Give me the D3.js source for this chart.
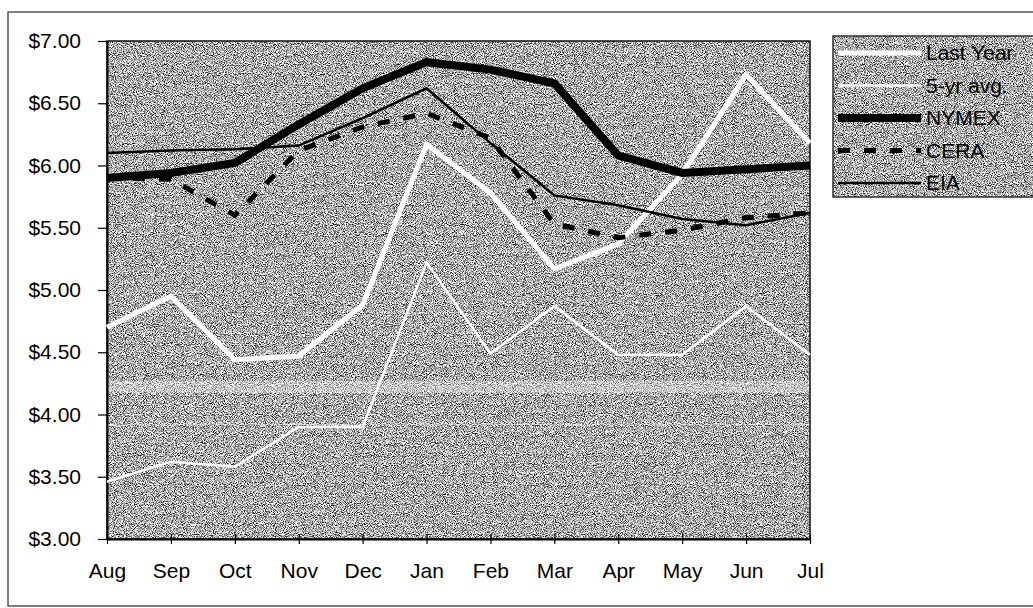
<!DOCTYPE html>
<html>
<head>
<meta charset="utf-8">
<script src="https://cdn.jsdelivr.net/npm/d3@7"></script>
<style>
  body { margin: 0; background: #fff; }
  text { font-family: "Liberation Sans", Arial, sans-serif; }
</style>
</head>
<body>
<script>
// data
const months = ['Aug','Sep','Oct','Nov','Dec','Jan','Feb','Mar','Apr','May','Jun','Jul'];
const lastYear = [4.70, 4.95, 4.44, 4.47, 4.88, 6.17, 5.78, 5.17, 5.37, 5.93, 6.73, 6.18];
const fiveYrAvg = [3.46, 3.62, 3.58, 3.90, 3.90, 5.22, 4.49, 4.87, 4.48, 4.48, 4.87, 4.48];
const nymex = [5.90, 5.94, 6.02, 6.33, 6.62, 6.83, 6.77, 6.66, 6.08, 5.94, 5.97, 6.00];
const cera = [5.90, 5.89, 5.60, 6.12, 6.31, 6.42, 6.22, 5.53, 5.42, 5.48, 5.58, 5.62];
const eia = [6.10, 6.12, 6.13, 6.16, 6.38, 6.62, 6.18, 5.76, 5.68, 5.57, 5.52, 5.62];
const yTicks = [3.00, 3.50, 4.00, 4.50, 5.00, 5.50, 6.00, 6.50, 7.00];
const seriesNames = ['Last Year', '5-yr avg.', 'NYMEX', 'CERA', 'EIA'];

// create svg canvas
const canvWidth = 1033, canvHeight = 608;
const svg = d3.select('body').append('svg')
  .attr('width', canvWidth)
  .attr('height', canvHeight);

// plot area bounds
const plotLeft = 107, plotRight = 810, plotTop = 41, plotBottom = 539;
const fontSize = '21px';

// styles per series, same order as seriesNames
const seriesStyle = [
  {color: '#fff', width: 5, dash: null},
  {color: '#fff', width: 2.5, dash: null},
  {color: '#000', width: 8, dash: null},
  {color: '#000', width: 5, dash: '12,14'},
  {color: '#000', width: 2.5, dash: null}
];
const seriesData = [lastYear, fiveYrAvg, nymex, cera, eia];

// scanned paper grain
const defs = svg.append('defs');
const grain = defs.append('filter').attr('id', 'grain')
  .attr('x', 0).attr('y', 0).attr('width', '100%').attr('height', '100%')
  .attr('color-interpolation-filters', 'sRGB');
grain.append('feTurbulence').attr('type', 'fractalNoise')
  .attr('baseFrequency', 1.1).attr('numOctaves', 1).attr('seed', 7);
grain.append('feColorMatrix').attr('type', 'matrix')
  .attr('values', '2.8 0 0 0 -0.72  2.8 0 0 0 -0.72  2.8 0 0 0 -0.72  0 0 0 0 1');

//DRAWING outer frame
svg.append('rect').attr('x', 8).attr('y', 12).attr('width', 1040).attr('height', 594)
  .style('fill', 'none').style('stroke', '#555').style('stroke-width', 1.5);

// scales
const x = d3.scalePoint().domain(months).range([plotLeft, plotRight]);
const y = d3.scaleLinear().domain([3, 7]).range([plotBottom, plotTop]);

//DRAWING plot background
svg.append('rect').attr('x', plotLeft).attr('y', plotTop)
  .attr('width', plotRight - plotLeft).attr('height', plotBottom - plotTop)
  .attr('filter', 'url(#grain)');
// light streak left by the scanner
svg.append('rect').attr('x', plotLeft).attr('y', y(4.27)).attr('width', plotRight - plotLeft).attr('height', 12)
  .style('fill', '#fff').style('opacity', 0.35);
svg.append('line').attr('x1', plotLeft).attr('x2', plotRight).attr('y1', y(3.92)).attr('y2', y(3.92))
  .style('stroke', '#fff').style('stroke-width', 1.5).style('opacity', 0.4);
svg.append('rect').attr('x', plotLeft).attr('y', plotTop)
  .attr('width', plotRight - plotLeft).attr('height', plotBottom - plotTop)
  .style('fill', 'none').style('stroke', '#111').style('stroke-width', 1.5);

//DRAWING axes
const yAxis = svg.append('g').attr('transform', 'translate(' + plotLeft + ',0)')
  .call(d3.axisLeft(y).tickValues(yTicks).tickFormat(d3.format('$.2f')).tickSize(9).tickPadding(17).tickSizeOuter(0));
const xAxis = svg.append('g').attr('transform', 'translate(0,' + plotBottom + ')')
  .call(d3.axisBottom(x).tickSize(5).tickPadding(19).tickSizeOuter(0));
xAxis.selectAll('.tick line').attr('y1', -5);
[yAxis, xAxis].forEach(function(ax){
  ax.select('.domain').style('stroke', '#000').style('stroke-width', 2);
  ax.selectAll('.tick line').style('stroke', '#000').style('stroke-width', 1.2);
  ax.selectAll('text').attr('font-size', fontSize).style('fill', '#000')
    .style('font-family', '"Liberation Sans", Arial, sans-serif');
});

//DRAWING series lines
const line = d3.line().x(function(d, i){ return x(months[i]); }).y(function(d){ return y(d); });
seriesData.forEach(function(vals, k){
  const st = seriesStyle[k];
  svg.append('path').datum(vals).attr('d', line)
    .style('fill', 'none').style('stroke', st.color).style('stroke-width', st.width)
    .style('stroke-linejoin', 'miter').style('stroke-dasharray', st.dash);
});

//DRAWING legend
const legX = 833, legY = 36, legW = 210, legH = 161, legRow = 32.5;
const legend = svg.append('g');
legend.append('rect').attr('x', legX).attr('y', legY).attr('width', legW).attr('height', legH)
  .attr('filter', 'url(#grain)');
legend.append('rect').attr('x', legX).attr('y', legY).attr('width', legW).attr('height', legH)
  .style('fill', 'none').style('stroke', '#333').style('stroke-width', 1.5);
seriesNames.forEach(function(name, k){
  const st = seriesStyle[k];
  const ly = legY + 17 + k * legRow;
  legend.append('line').attr('x1', legX + 5).attr('x2', legX + 88).attr('y1', ly).attr('y2', ly)
    .style('stroke', st.color).style('stroke-width', st.width).style('stroke-dasharray', st.dash);
  legend.append('text').text(name).attr('x', legX + 93).attr('y', ly + 7)
    .attr('font-size', fontSize).style('fill', '#000');
});
</script>
</body>
</html>
